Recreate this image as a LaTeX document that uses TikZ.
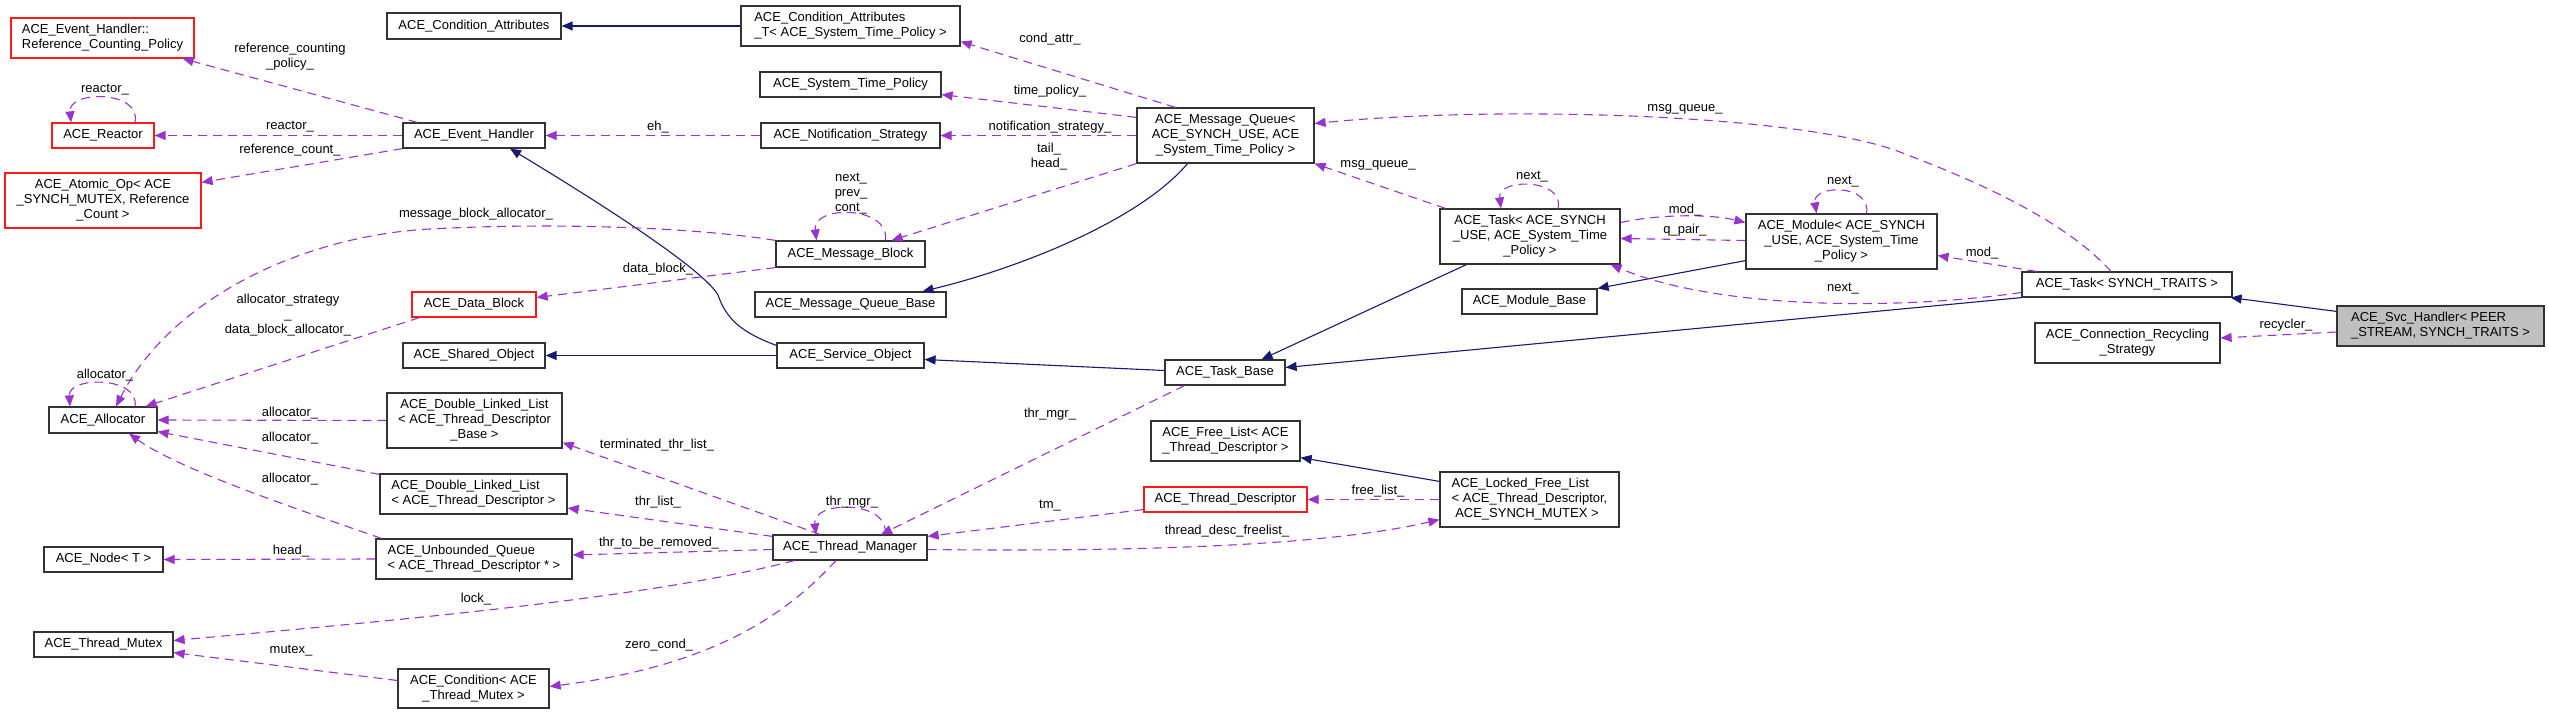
\documentclass[tikz,border=0pt]{standalone}
\usepackage{fontspec}
\setmainfont{Liberation Sans}
\usepackage{tikz}
\usetikzlibrary{calc,arrows.meta}
\definecolor{inhblue}{RGB}{25,25,112}
\definecolor{usepurple}{RGB}{154,50,205}
\definecolor{boxgrey}{RGB}{191,191,191}

\begin{document}
\begin{tikzpicture}[x=1pt, y=-1pt]
\tikzstyle{cls}=[draw=black!80, line width=1.2pt, fill=white, inner sep=0pt,
                 align=center, font=\fontsize{13}{15}\selectfont]
\tikzstyle{trunc}=[cls, draw=red!90]
\tikzstyle{inh}=[draw=inhblue, line width=1.1pt, -{Triangle[length=11pt,width=9pt]}]
\tikzstyle{use}=[draw=usepurple, line width=1.1pt, dash pattern=on 9pt off 6pt,
                 -{Triangle[length=11pt,width=9pt]}]
\tikzstyle{lbl}=[inner sep=0pt, align=center, font=\fontsize{13}{15}\selectfont]
\useasboundingbox (0,0) rectangle (2549,715);

% classes
\node[trunc, align=left, minimum width=183, minimum height=40] (rcp) at (102.5,38) {ACE\_Event\_Handler::\\Reference\_Counting\_Policy};
\node[cls, minimum width=174, minimum height=26] (condattr) at (474,26) {ACE\_Condition\_Attributes};
\node[trunc, minimum width=102, minimum height=25] (reactor) at (103,135.5) {ACE\_Reactor};
\node[cls, minimum width=142, minimum height=25] (eh) at (474,135.5) {ACE\_Event\_Handler};
\node[trunc, minimum width=196, minimum height=55] (atomic) at (103,200.5) {ACE\_Atomic\_Op< ACE\\\_SYNCH\_MUTEX, Reference\\\_Count >};
\node[trunc, minimum width=124, minimum height=25] (datablock) at (474,304.5) {ACE\_Data\_Block};
\node[cls, minimum width=142, minimum height=25] (shared) at (474,355.5) {ACE\_Shared\_Object};
\node[cls, minimum width=108, minimum height=26] (alloc) at (103,420) {ACE\_Allocator};
\node[cls, minimum width=175, minimum height=55] (dllb) at (474.5,420.5) {ACE\_Double\_Linked\_List\\< ACE\_Thread\_Descriptor\\\_Base >};
\node[cls, align=left, minimum width=187, minimum height=40] (dlltd) at (473.5,494) {ACE\_Double\_Linked\_List\\< ACE\_Thread\_Descriptor >};
\node[cls, minimum width=119, minimum height=25] (tnode) at (103.5,559.5) {ACE\_Node< T >};
\node[cls, align=left, minimum width=196, minimum height=40] (uq) at (474,559) {ACE\_Unbounded\_Queue\\< ACE\_Thread\_Descriptor * >};
\node[cls, minimum width=139, minimum height=25] (mutex) at (103.5,644.5) {ACE\_Thread\_Mutex};
\node[cls, minimum width=151, minimum height=39] (cond) at (473.5,688.5) {ACE\_Condition< ACE\\\_Thread\_Mutex >};
\node[cls, align=left, minimum width=219, minimum height=40] (condattrt) at (850.5,26) {ACE\_Condition\_Attributes\\\_T< ACE\_System\_Time\_Policy >};
\node[cls, minimum width=181, minimum height=25] (stp) at (850.5,84.5) {ACE\_System\_Time\_Policy};
\node[cls, minimum width=179, minimum height=25] (ns) at (850.5,135.5) {ACE\_Notification\_Strategy};
\node[cls, minimum width=177, minimum height=55] (mq) at (1225.5,135.5) {ACE\_Message\_Queue<\\ACE\_SYNCH\_USE, ACE\\\_System\_Time\_Policy >};
\node[cls, minimum width=149, minimum height=26] (mb) at (850.5,254) {ACE\_Message\_Block};
\node[cls, minimum width=191, minimum height=25] (mqb) at (850.5,304.5) {ACE\_Message\_Queue\_Base};
\node[cls, minimum width=147, minimum height=25] (so) at (850.5,355.5) {ACE\_Service\_Object};
\node[cls, minimum width=120, minimum height=25] (taskbase) at (1225,372.5) {ACE\_Task\_Base};
\node[cls, align=left, minimum width=149, minimum height=40] (freelist) at (1225.5,441) {ACE\_Free\_List< ACE\\\_Thread\_Descriptor >};
\node[trunc, minimum width=163, minimum height=25] (td) at (1225.5,499.5) {ACE\_Thread\_Descriptor};
\node[cls, minimum width=154, minimum height=25] (tm) at (850,547.5) {ACE\_Thread\_Manager};
\node[cls, minimum width=180, minimum height=55] (task) at (1530,236.5) {ACE\_Task< ACE\_SYNCH\\\_USE, ACE\_System\_Time\\\_Policy >};
\node[cls, minimum width=191, minimum height=55] (module) at (1841.5,241.5) {ACE\_Module< ACE\_SYNCH\\\_USE, ACE\_System\_Time\\\_Policy >};
\node[cls, minimum width=135, minimum height=25] (modbase) at (1529.5,301.5) {ACE\_Module\_Base};
\node[cls, align=left, minimum width=179, minimum height=55] (lfl) at (1529.5,499.5) {ACE\_Locked\_Free\_List\\< ACE\_Thread\_Descriptor,\\ \ ACE\_SYNCH\_MUTEX >};
\node[cls, minimum width=210, minimum height=25] (taskst) at (2127,284.5) {ACE\_Task< SYNCH\_TRAITS >};
\node[cls, minimum width=185, minimum height=40] (crs) at (2127.5,343) {ACE\_Connection\_Recycling\\\_Strategy};
\node[cls, align=left, fill=boxgrey, minimum width=207, minimum height=40] (svc) at (2440.5,326) {ACE\_Svc\_Handler< PEER\\\_STREAM, SYNCH\_TRAITS >};

% inheritance
\draw[inh] (condattrt.west) -- (condattr.east);
\draw[inh] ($(so.north west)+(0,3)$) .. controls (740,332) and (726,318) .. (718,295)
           .. controls (705,272) and (620,215) .. ($(eh.south)+(36,0)$);
\draw[inh] (so.west) -- (shared.east);
\draw[inh] ($(mq.south)+(-38,0)$) .. controls (1140,220) and (1020,268) .. ($(mqb.north)+(72,0)$);
\draw[inh] ($(taskbase.west)+(0,-2)$) -- ($(so.east)+(0,4)$);
\draw[inh] ($(task.south west)+(27,0)$) -- ($(taskbase.north east)+(-24,0)$);
\draw[inh] ($(module.south west)+(0,-9)$) -- (modbase.north east);
\draw[inh] (taskst.south west) -- ($(taskbase.east)+(0,-5)$);
\draw[inh] ($(svc.north west)+(0,6)$) -- ($(taskst.south east)+(-2,0)$);
\draw[inh] ($(lfl.north west)+(0,10)$) -- ($(freelist.south east)+(0,-4)$);

% members
\draw[use] ($(eh.north west)+(15,0)$) -- ($(rcp.south east)+(-12,0)$);
\draw[use] (eh.west) -- (reactor.east);
\draw[use] ($(reactor.north)+(32,0)$) .. controls (142,90) and (68,90) .. ($(reactor.north)+(-32,0)$);
\draw[use] (eh.south west) -- ($(atomic.north east)+(0,10)$);
\draw[use] (ns.west) -- (eh.east);
\draw[use] ($(mq.north)+(-50,0)$) -- ($(condattrt.south east)+(0,-5)$);
\draw[use] ($(mq.north west)+(0,10)$) -- ($(stp.south east)+(0,-3)$);
\draw[use] (mq.west) -- (ns.east);
\draw[use] (mq.south west) -- ($(mb.north east)+(-34,0)$);
\draw[use] ($(mb.north)+(35,0)$) .. controls (890,205) and (812,205) .. ($(mb.north)+(-34,0)$);
\draw[use] (mb.north west) .. controls (700,228) and (560,222) .. (430,229)
           .. controls (300,236) and (170,300) .. ($(alloc.north)+(13,0)$);
\draw[use] (mb.south west) -- ($(datablock.east)+(0,-7)$);
\draw[use] ($(datablock.south west)+(8,0)$) -- ($(alloc.north east)+(-12,0)$);
\draw[use] ($(alloc.north)+(32,0)$) .. controls (140,376) and (68,376) .. ($(alloc.north)+(-33,0)$);
\draw[use] (dllb.west) -- (alloc.east);
\draw[use] ($(dlltd.north west)+(0,1)$) -- ($(alloc.south east)+(0,-2)$);
\draw[use] ($(uq.north west)+(6,0)$) .. controls (300,510) and (180,470) .. ($(alloc.south)+(26,0)$);
\draw[use] (uq.west) -- (tnode.east);
\draw[use] ($(tm.north)+(-30,0)$) -- ($(dllb.south east)+(0,-6)$);
\draw[use] ($(tm.north west)+(0,2)$) -- ($(dlltd.east)+(0,14)$);
\draw[use] ($(tm.west)+(0,2)$) -- ($(uq.east)+(0,-4)$);
\draw[use] ($(tm.south west)+(22,0)$) .. controls (650,598) and (400,620) .. ($(mutex.east)+(0,-4)$);
\draw[use] ($(cond.west)+(0,-8)$) -- ($(mutex.south east)+(0,-5)$);
\draw[use] ($(tm.south)+(-14,0)$) .. controls (790,610) and (720,665) .. ($(cond.east)+(0,-2)$);
\draw[use] ($(tm.north)+(35,0)$) .. controls (890,500) and (812,500) .. ($(tm.north)+(-34,0)$);
\draw[use] ($(taskbase.south west)+(20,0)$) -- ($(tm.north)+(31,0)$);
\draw[use] ($(td.west)+(0,10)$) -- ($(tm.north east)+(0,2)$);
\draw[use] (lfl.west) -- (td.east);
\draw[use] ($(tm.east)+(0,2)$) .. controls (1150,552) and (1330,545) .. ($(lfl.south west)+(0,-8)$);
\draw[use] ($(task.north west)+(6,0)$) -- (mq.south east);
\draw[use] ($(task.north)+(28,0)$) .. controls (1565,178) and (1497,178) .. ($(task.north)+(-29,0)$);
\draw[use] ($(task.east)+(0,-14)$) .. controls (1660,214) and (1710,214) .. ($(module.west)+(0,-19)$);
\draw[use] ($(module.west)+(0,-1)$) -- ($(task.east)+(0,2)$);
\draw[use] ($(module.north)+(25,0)$) .. controls (1872,184) and (1812,184) .. ($(module.north)+(-25,0)$);
\draw[use] ($(taskst.north west)+(15,0)$) -- ($(module.east)+(0,14)$);
\draw[use] ($(taskst.west)+(0,8)$) .. controls (1900,310) and (1720,310) .. ($(task.south east)+(-10,0)$);
\draw[use] ($(taskst.north)+(-16,0)$) .. controls (2060,215) and (1960,175) .. (1900,152)
           .. controls (1800,114) and (1500,105) .. ($(mq.east)+(0,-12)$);
\draw[use] ($(svc.west)+(0,6)$) -- ($(crs.east)+(0,-5)$);

% member names
\node[lbl] (l1) at (290,57) {reference\_counting\\\_policy\_};
\node[lbl] (l2) at (290,127) {reactor\_};
\node[lbl] (l3) at (105,90) {reactor\_};
\node[lbl] (l4) at (290,150) {reference\_count\_};
\node[lbl] (l5) at (658,127) {eh\_};
\node[lbl] (l6) at (1050,39) {cond\_attr\_};
\node[lbl] (l7) at (1050,91) {time\_policy\_};
\node[lbl] (l8) at (1050,127) {notification\_strategy\_};
\node[lbl] (l9) at (1049,157) {tail\_\\head\_};
\node[lbl] (l10) at (851,194) {next\_\\prev\_\\cont\_};
\node[lbl] (l11) at (476,214) {message\_block\_allocator\_};
\node[lbl] (l12) at (658,269) {data\_block\_};
\node[lbl] (l13) at (288,315) {allocator\_strategy\\\_\\data\_block\_allocator\_};
\node[lbl] (l14) at (105,375) {allocator\_};
\node[lbl] (l15) at (290,413) {allocator\_};
\node[lbl] (l16) at (290,438) {allocator\_};
\node[lbl] (l17) at (290,479) {allocator\_};
\node[lbl] (l18) at (291,551) {head\_};
\node[lbl] (l19) at (657,445) {terminated\_thr\_list\_};
\node[lbl] (l20) at (658,502) {thr\_list\_};
\node[lbl] (l21) at (659,543) {thr\_to\_be\_removed\_};
\node[lbl] (l22) at (476,599) {lock\_};
\node[lbl] (l23) at (291,651) {mutex\_};
\node[lbl] (l24) at (659,645) {zero\_cond\_};
\node[lbl] (l25) at (852,502) {thr\_mgr\_};
\node[lbl] (l26) at (1050,414) {thr\_mgr\_};
\node[lbl] (l27) at (1050,506) {tm\_};
\node[lbl] (l28) at (1378,491) {free\_list\_};
\node[lbl] (l29) at (1227,531) {thread\_desc\_freelist\_};
\node[lbl] (l30) at (1378,165) {msg\_queue\_};
\node[lbl] (l31) at (1532,177) {next\_};
\node[lbl] (l32) at (1685,210) {mod\_};
\node[lbl] (l33) at (1685,230) {q\_pair\_};
\node[lbl] (l34) at (1843,182) {next\_};
\node[lbl] (l35) at (1982,253) {mod\_};
\node[lbl] (l36) at (1843,289) {next\_};
\node[lbl] (l37) at (1685,109) {msg\_queue\_};
\node[lbl] (l38) at (2286,325) {recycler\_};
\end{tikzpicture}
\end{document}
